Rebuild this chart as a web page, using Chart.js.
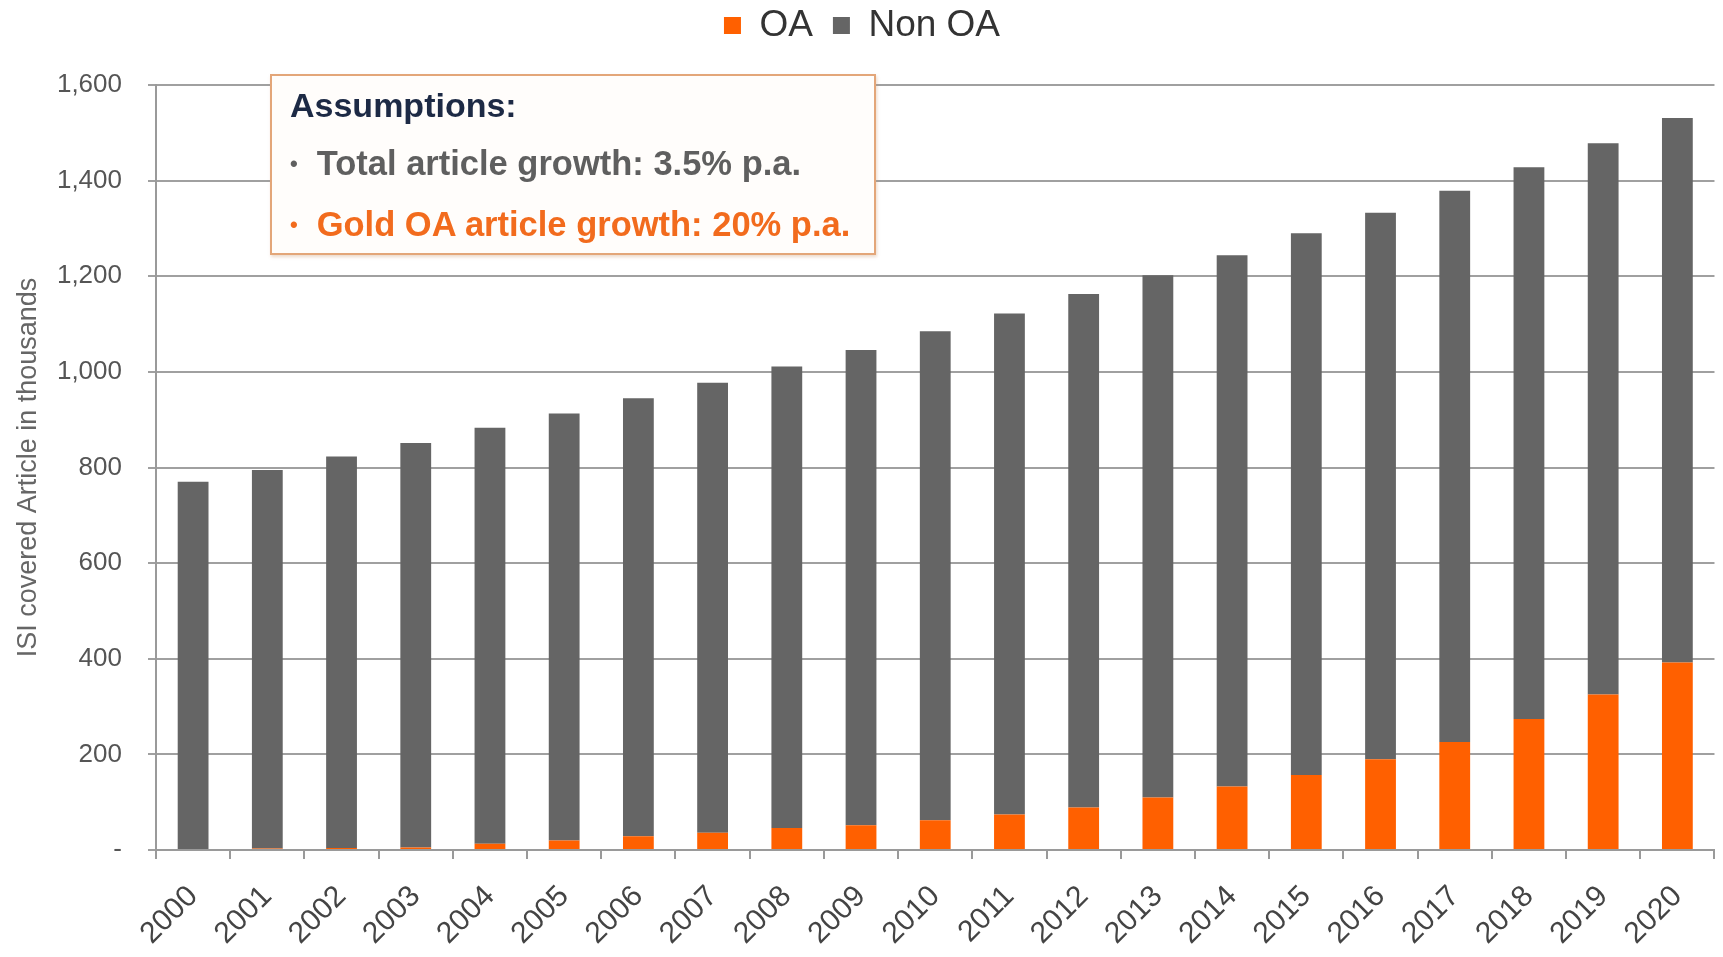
<!DOCTYPE html>
<html>
<head>
<meta charset="utf-8">
<script src="https://cdn.jsdelivr.net/npm/chart.js@4/dist/chart.umd.min.js"></script>
<style>
  html, body { margin: 0; padding: 0; background: #ffffff; }
  #wrap { position: relative; width: 1723px; height: 957px; }
  #note {
    position: absolute; left: 270px; top: 74px; width: 606px; height: 181px;
    box-sizing: border-box; border: 2px solid #e3a679; background: #fffdfb;
    box-shadow: 1px 2px 3px rgba(200,150,110,0.35);
    font-family: "Liberation Sans", Arial, sans-serif; font-weight: bold; font-size: 34.5px;
  }
  #note div { position: absolute; left: 18px; white-space: nowrap; }
  #note .b { font-size: 22px; margin-right: 19px; vertical-align: 4px; }
  #note .h { top: 10px; color: #1d2a45; font-size: 34px; }
  #note .g { top: 68px; color: #5f5f5f; }
  #note .o { top: 129px; color: #f26b1d; }
</style>
</head>
<body>
<div id="wrap">
  <canvas id="c" width="1723" height="957"></canvas>
  <div id="note">
    <div class="h">Assumptions:</div>
    <div class="g"><span class="b">•</span>Total article growth: 3.5% p.a.</div>
    <div class="o"><span class="b">•</span>Gold OA article growth: 20% p.a.</div>
  </div>
</div>
<script>
const years = ['2000','2001','2002','2003','2004','2005','2006','2007','2008','2009','2010',
               '2011','2012','2013','2014','2015','2016','2017','2018','2019','2020'];
const oaValues = [2, 3, 4, 5, 13, 20, 29, 36, 46, 52, 62, 74, 89, 110, 133, 157, 190, 226, 274, 325, 392];
const nonOaValues = [768, 792, 819, 846, 870, 893, 916, 941, 965, 994, 1023, 1048, 1074, 1092, 1111, 1133, 1143, 1153, 1154, 1153, 1139];
const seriesNames = ['OA', 'Non OA'];
const yAxisTitle = 'ISI covered Article in thousands';

const FONT = '"Liberation Sans", Arial, sans-serif';

// add blank space below the legend so the plot starts lower
const legendGap = {
  id: 'legendGap',
  beforeLayout(chart) {
    const lg = chart.legend;
    if (lg && !lg._gapPatched) {
      const f = lg.fit;
      lg.fit = function () { f.call(this); this.height += 31; };
      lg._gapPatched = true;
    }
  }
};

new Chart(document.getElementById('c'), {
  type: 'bar',
  data: {
    labels: years,
    datasets: [
      { label: seriesNames[0], data: oaValues, backgroundColor: '#ff6000', borderWidth: 0,
        barPercentage: 0.415, categoryPercentage: 1.0 },
      { label: seriesNames[1], data: nonOaValues, backgroundColor: '#656565', borderWidth: 0,
        barPercentage: 0.415, categoryPercentage: 1.0 }
    ]
  },
  plugins: [legendGap],
  options: {
    responsive: false,
    animation: false,
    layout: { padding: { top: -13, right: 7, bottom: 0, left: 8 } },
    plugins: {
      legend: {
        position: 'top',
        labels: {
          font: { family: FONT, size: 37, lineHeight: 1 },
          color: '#333333',
          boxWidth: 17, boxHeight: 17,
          padding: 20
        }
      },
      tooltip: { enabled: false }
    },
    scales: {
      x: {
        stacked: true,
        grid: { display: true, drawOnChartArea: false, drawTicks: true, tickLength: 9, color: '#9a9a9a', lineWidth: 2 },
        border: { display: true, color: '#9a9a9a', width: 2 },
        ticks: { font: { family: FONT, size: 30 }, color: '#444444', maxRotation: 45, minRotation: 45, padding: 20, autoSkip: false },
        afterFit: s => { s.height = 107; }
      },
      y: {
        stacked: true,
        min: 0, max: 1600,
        grid: { color: '#a0a0a0', lineWidth: 2, tickLength: 8 },
        border: { display: true, color: '#9a9a9a', width: 2 },
        ticks: {
          stepSize: 200,
          font: { family: FONT, size: 26 },
          color: '#555555',
          padding: 26,
          callback: v => v === 0 ? '-' : v.toLocaleString('en-US')
        },
        title: { display: true, text: yAxisTitle, font: { family: FONT, size: 27 }, color: '#666666', padding: 4 },
        afterFit: s => { s.width = 148; }
      }
    }
  }
});
</script>
</body>
</html>
